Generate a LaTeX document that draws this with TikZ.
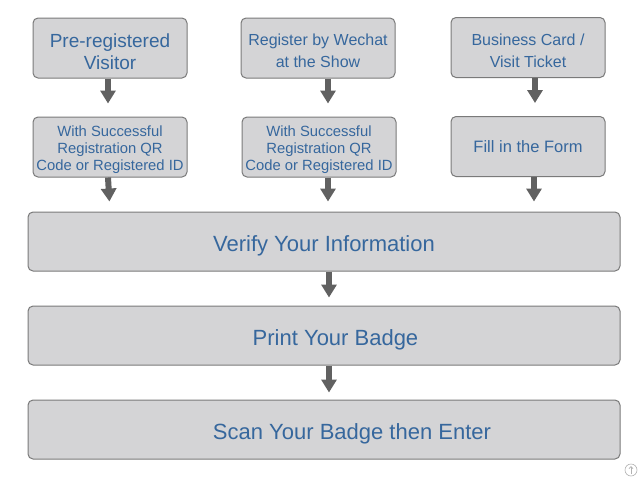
\documentclass[tikz,border=0pt]{standalone}
\usepackage{fontspec}
\setmainfont{Liberation Sans}
\usetikzlibrary{arrows.meta}
\definecolor{boxgray}{HTML}{D4D4D6}
\definecolor{edgegray}{HTML}{7A7A7A}
\definecolor{textblue}{HTML}{36679D}
\definecolor{arrowgray}{HTML}{616161}
\newcommand{\lowline}{\rule{0pt}{1.12em}}
\tikzset{
  stepbox/.style={draw=edgegray, fill=boxgray, line width=1pt, rounded corners=5pt,
    inner sep=0pt, align=center, text=textblue, minimum width=154pt, minimum height=60pt},
  widebox/.style={stepbox, minimum width=592pt, minimum height=59pt,
    font=\fontsize{22}{26}\selectfont, execute at begin node={\rule{0pt}{1.15em}}},
  flow/.style={-{Triangle[length=13pt,width=15pt]}, line width=6pt, draw=arrowgray,
    shorten >=10pt}
}
\begin{document}
\begin{tikzpicture}[x=1pt, y=-1pt]
  \useasboundingbox[fill=white] (0,0) rectangle (640,480);

  % entry routes
  \node[stepbox, font=\fontsize{19}{22}\selectfont] (pre) at (110,48) {\lowline Pre-registered\\Visitor};
  \node[stepbox, font=\fontsize{16}{22}\selectfont] (wechat) at (318,48) {\lowline Register by Wechat\\at the Show};
  \node[stepbox, font=\fontsize{16}{22}\selectfont] (card) at (528,47.5) {\lowline Business Card /\\Visit Ticket};

  % what each route brings
  \node[stepbox, font=\fontsize{14.8}{17}\selectfont] (qrpre) at (110,147) {\lowline With Successful\\Registration QR\\Code or Registered ID};
  \node[stepbox, font=\fontsize{14.8}{17}\selectfont] (qrwechat) at (319,147) {\lowline With Successful\\Registration QR\\Code or Registered ID};
  \node[stepbox, font=\fontsize{16.5}{20}\selectfont] (form) at (528,146.5) {Fill in the Form};

  % common steps
  \node[widebox] (verify) at (324,241.5) {Verify Your Information};
  \node[widebox] (badge) at (324,335.5) {\hspace*{23pt}Print Your Badge};
  \node[widebox] (enter) at (324,429.5) {\hspace*{56pt}Scan Your Badge then Enter};

  % arrows
  \draw[flow, shorten >=13pt] ([xshift=-2pt]pre.south) -- ([xshift=-2pt]qrpre.north);
  \draw[flow, shorten >=13pt] ([xshift=10pt]wechat.south) -- ([xshift=9pt]qrwechat.north);
  \draw[flow, shorten >=13pt] ([xshift=7pt]card.south) -- ([xshift=7pt]form.north);
  \draw[flow] ([xshift=-2pt]qrpre.south) -- (qrpre.south |- verify.north);
  \draw[flow] ([xshift=9pt]qrwechat.south) -- ([xshift=9pt]qrwechat.south |- verify.north);
  \draw[flow] ([xshift=6pt]form.south) -- ([xshift=6pt]form.south |- verify.north);
  \draw[flow, shorten >=8pt] ([xshift=5pt]verify.south) -- ([xshift=5pt]badge.north);
  \draw[flow, shorten >=7pt] ([xshift=5pt]badge.south) -- ([xshift=5pt]enter.north);

  % small corner icon
  \draw[gray!60, line width=0.6pt] (631,470) circle (6);
  \draw[gray!60, line width=0.8pt, -{Straight Barb[length=2pt]}] (631,474) -- (631,466);
\end{tikzpicture}
\end{document}
